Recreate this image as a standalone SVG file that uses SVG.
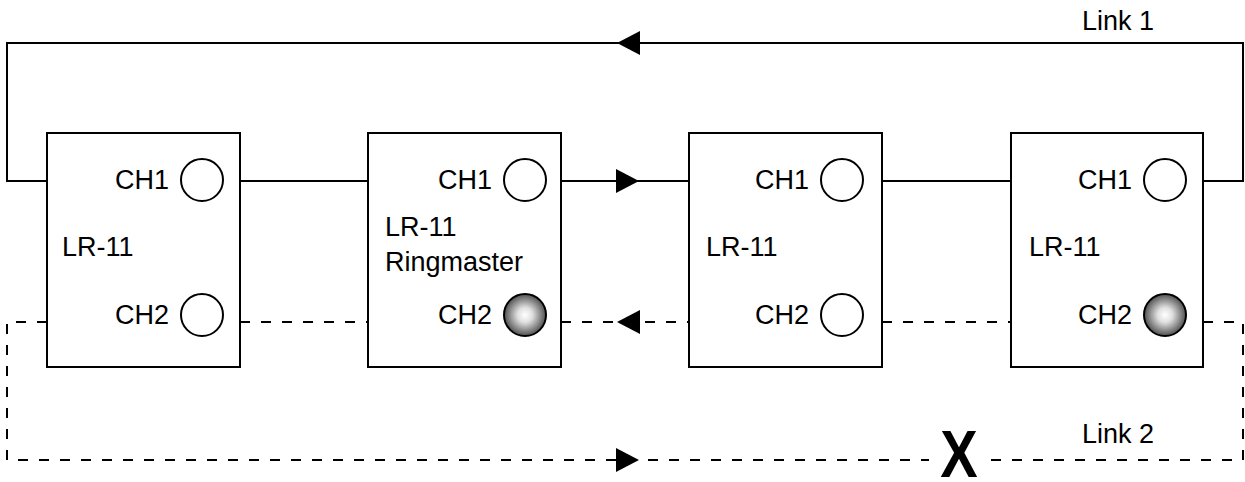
<svg xmlns="http://www.w3.org/2000/svg" width="1245" height="482" viewBox="0 0 1245 482">
<style>
.box{fill:#fff;stroke:#000;stroke-width:2}
.t{font-family:"Liberation Sans",Arial,sans-serif;font-size:27px;fill:#000}
.e{text-anchor:end}
.sol{fill:none;stroke:#000;stroke-width:2}
.dash{fill:none;stroke:#000;stroke-width:2;stroke-dasharray:10 11}
.led{fill:#fff;stroke:#000;stroke-width:2}
.on{fill:url(#glow);stroke:#000;stroke-width:2}
.ah{fill:#000}
</style>
<defs>
<radialGradient id="glow" cx="50%" cy="50%" r="50%">
<stop offset="0" stop-color="#ffffff"/>
<stop offset="0.35" stop-color="#e0e0e0"/>
<stop offset="1" stop-color="#505050"/>
</radialGradient>
</defs>
<g id="connectors">
<path class="sol" d="M47,181 H7 V43 H1243 V181 H1203"/>
<path class="sol" d="M240,181 H368 M561,181 H689 M882,181 H1011"/>
<path class="dash" d="M47,322 H7 V460 H929"/>
<path class="dash" d="M1203,322 H1243 V460 H990"/>
<path class="dash" d="M240,322 H368 M561,322 H689 M882,322 H1011"/>
<polygon class="ah" points="617,43 640,31 640,55"/>
<polygon class="ah" points="639,181 616,169 616,193"/>
<polygon class="ah" points="617,322 640,310 640,334"/>
<polygon class="ah" points="639,460 616,448 616,472"/>
<text class="t" x="1082" y="30">Link 1</text>
<text class="t" x="1082" y="443">Link 2</text>
<text x="0" y="0" transform="translate(959,477) scale(0.85,1)" style="font-family:'Liberation Sans',Arial,sans-serif;font-size:66px;font-weight:bold;text-anchor:middle">X</text>
</g>
<g id="node1">
<rect class="box" x="47" y="133" width="193" height="234"/>
<text class="t e" x="169" y="189">CH1</text>
<circle class="led" cx="202" cy="180" r="21"/>
<text class="t" x="62" y="256">LR-11</text>
<text class="t e" x="169" y="324">CH2</text>
<circle class="led" cx="202" cy="315" r="21"/>
</g>
<g id="node2">
<rect class="box" x="368" y="133" width="193" height="234"/>
<text class="t e" x="492" y="189">CH1</text>
<circle class="led" cx="525" cy="180" r="21"/>
<text class="t" x="385" y="236">LR-11</text>
<text class="t" x="385" y="271">Ringmaster</text>
<text class="t e" x="492" y="324">CH2</text>
<circle class="on" cx="525" cy="315" r="21"/>
</g>
<g id="node3">
<rect class="box" x="689" y="133" width="193" height="234"/>
<text class="t e" x="809" y="189">CH1</text>
<circle class="led" cx="842" cy="180" r="21"/>
<text class="t" x="706" y="256">LR-11</text>
<text class="t e" x="809" y="324">CH2</text>
<circle class="led" cx="842" cy="315" r="21"/>
</g>
<g id="node4">
<rect class="box" x="1011" y="133" width="192" height="234"/>
<text class="t e" x="1132" y="189">CH1</text>
<circle class="led" cx="1165" cy="180" r="21"/>
<text class="t" x="1029" y="256">LR-11</text>
<text class="t e" x="1132" y="324">CH2</text>
<circle class="on" cx="1165" cy="315" r="21"/>
</g>
</svg>
